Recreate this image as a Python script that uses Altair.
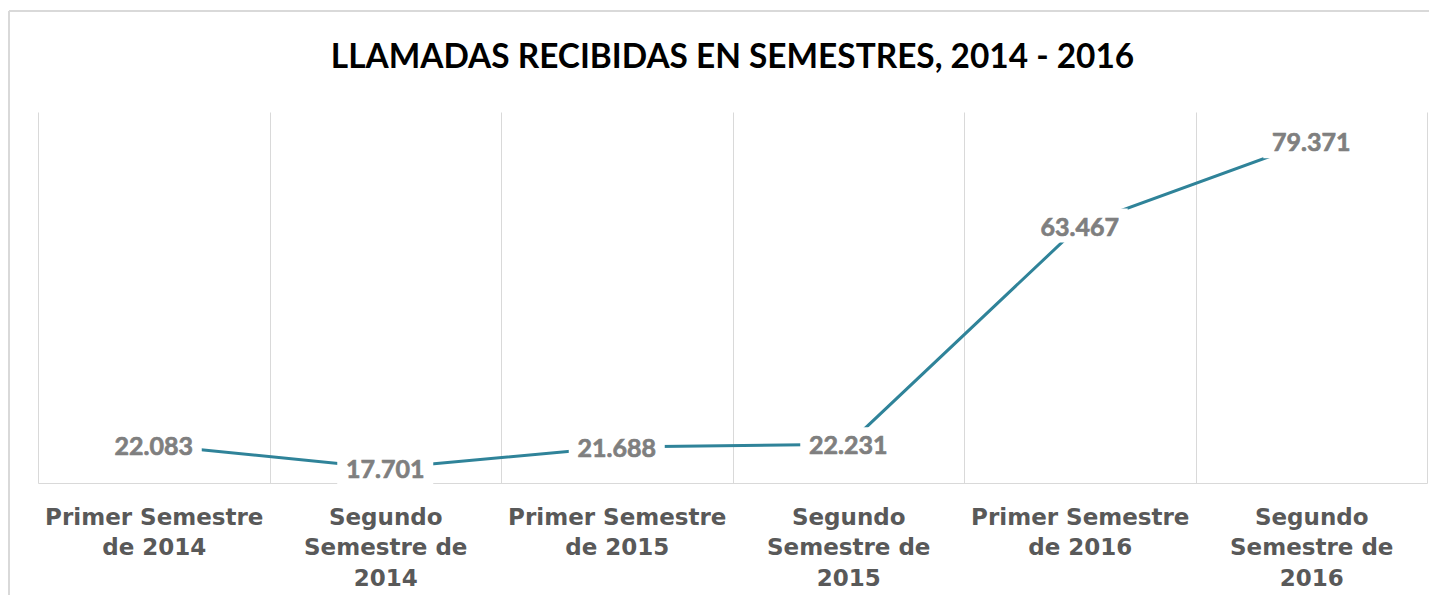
import altair as alt
import pandas as pd

categories = [
    "Primer Semestre|de 2014",
    "Segundo|Semestre de|2014",
    "Primer  Semestre|de 2015",
    "Segundo|Semestre  de|2015",
    "Primer  Semestre|de 2016",
    "Segundo|Semestre  de|2016",
]
values = [22083, 17701, 21688, 22231, 63467, 79371]
labels = ["22.083", "17.701", "21.688", "22.231", "63.467", "79.371"]

df = pd.DataFrame({"cat": categories, "value": values, "label": labels})

W, H = 1389, 371
LINE = "#2F8399"
GRID = "#D9D9D9"

x = alt.X(
    "cat:N",
    sort=categories,
    scale=alt.Scale(type="band", paddingInner=0, paddingOuter=0),
    axis=alt.Axis(
        title=None,
        grid=True,
        gridColor=GRID,
        gridWidth=1,
        tickBand="extent",
        ticks=False,
        domainColor=GRID,
        domainWidth=1,
        labelAngle=0,
        labelExpr="split(datum.label, '|')",
        labelFont="DejaVu Sans",
        labelFontWeight="bold",
        labelFontSize=23,
        labelColor="#595959",
        labelLineHeight=30.5,
        labelPadding=41,
        labelBaseline="alphabetic",
        labelLimit=0,
    ),
)
y = alt.Y(
    "value:Q",
    scale=alt.Scale(domain=[14900, 84900], zero=False, nice=False),
    axis=None,
)

base = alt.Chart(df)

line = base.mark_line(color=LINE, strokeWidth=3).encode(x=x, y=y)

boxes = base.mark_point(
    shape="M-1,-0.354L1,-0.354L1,0.354L-1,0.354Z",
    filled=True,
    fill="white",
    opacity=1,
    strokeWidth=0,
    size=9216,
).encode(x=x, y=y)

text = base.mark_text(
    font="Lato",
    fontWeight="bold",
    fontSize=25,
    color="#7F7F7F",
    stroke="#7F7F7F",
    strokeWidth=0.7,
    baseline="middle",
    align="center",
    dy=2,
).encode(x=x, y=y, text="label:N")

border_top = base.mark_rule(color=GRID, strokeWidth=2).encode(
    x=alt.value(-29), x2=alt.value(W + 2), y=alt.value(-101)
)
border_left = base.mark_rule(color=GRID, strokeWidth=2).encode(
    x=alt.value(-29), y=alt.value(-101), y2=alt.value(H + 120)
)

chart = (
    alt.layer(border_top, border_left, line, boxes, text)
    .properties(
        width=W,
        height=H,
        autosize=alt.AutoSizeParams(type="none"),
        padding={"left": 30, "top": 104, "right": 2, "bottom": 112},
        title=alt.TitleParams(
            "LLAMADAS RECIBIDAS EN SEMESTRES, 2014 - 2016",
            font="Lato",
            fontWeight="bold",
            fontSize=33.4,
            color="#000000",
            anchor="middle",
            baseline="alphabetic",
            frame="group",
            offset=-91,
        ),
    )
    .configure(
        background="white",
        view=alt.ViewConfig(stroke="transparent", strokeWidth=0),
    )
)

chart.save("out.html", embed_options={"renderer": "svg", "actions": False})
